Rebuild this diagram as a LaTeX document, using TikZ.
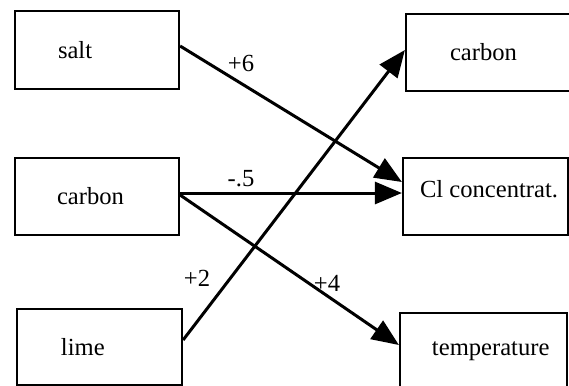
\documentclass[tikz,border=0pt]{standalone}
\usepackage{fontspec}
\setmainfont{Liberation Serif}
\usetikzlibrary{arrows.meta}
\newcommand{\boxtext}[3]{\makebox[#1][l]{\hspace*{#2}#3}}
\begin{document}
\begin{tikzpicture}[x=0.5pt,y=-0.5pt,
  every node/.style={font=\fontsize{12.3}{14}\selectfont},
  box/.style={draw, line width=1.1pt, inner xsep=0pt, inner ysep=0pt},
  arr/.style={line width=1.5pt, -{Triangle[length=13.5pt,width=11pt]}},
  lbl/.style={inner sep=0pt}]
\useasboundingbox (0,0) rectangle (569,386);
% left boxes
\node[box, minimum height=39pt] (salt) at (97,50) {\boxtext{82pt}{21.5pt}{salt}};
\node[box, minimum height=38.5pt] (carbonL) at (97,196.5) {\boxtext{82pt}{21pt}{carbon}};
\node[box, minimum height=38pt] (lime) at (99.5,347) {\boxtext{82.5pt}{22pt}{lime}};
% right boxes
\node[box, minimum height=38.5pt] (carbonR) at (506,52.5) {\boxtext{100pt}{22pt}{carbon}};
\node[box, minimum height=38.5pt] (cl) at (485.5,196.5) {\boxtext{82.5pt}{8.5pt}{\raisebox{2.5pt}[0.7em][0.2em]{Cl concentrat.}}};
\node[box, minimum height=39pt] (temp) at (483.5,352) {\boxtext{83.5pt}{16pt}{\raisebox{1.5pt}[0.7em][0.2em]{temperature}}};
% connectors
\draw[arr] ([yshift=2pt]salt.east) -- ([yshift=7.25pt]cl.west);
\draw[arr] ([yshift=1.75pt]carbonL.east) -- ([yshift=1.75pt]cl.west);
\draw[arr] ([yshift=0.75pt]carbonL.east) -- ([yshift=3.5pt]temp.west);
\draw[arr] ([yshift=3.5pt]lime.east) -- ([yshift=1.25pt]carbonR.west);
% labels
\node[lbl] (l6) at (241,63) {+6};
\node[lbl] (l5) at (241,179) {-.5};
\node[lbl] (l2) at (197,278) {+2};
\node[lbl] (l4) at (327,283) {+4};
\end{tikzpicture}
\end{document}
